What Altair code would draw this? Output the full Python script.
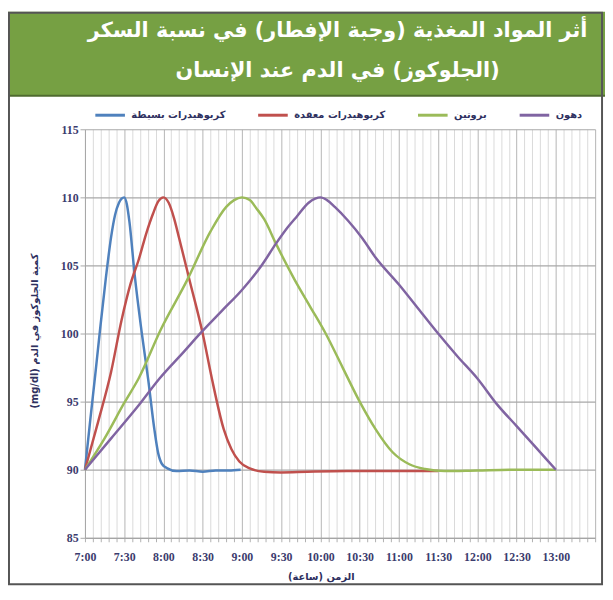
import altair as alt
import pandas as pd

# ---------------- data (minutes after 7:00, glucose mg/dl) ----------------
series_names = ["كربوهيدرات بسيطة", "كربوهيدرات معقدة", "بروتين", "دهون"]
series_colors = ["#4F81BD", "#C0504D", "#9BBB59", "#8064A2"]

simple_t = [0, 4, 8, 12, 16, 20, 23, 26, 28, 30, 32, 34, 38, 43.5, 48.5, 53, 56, 59, 63, 70, 80, 90, 100, 110, 119]
simple_v = [90, 93.6, 97.1, 100.7, 104.1, 107.1, 108.7, 109.6, 109.9, 110, 109.5, 108.2, 104.3, 100, 96.5, 93, 91.2, 90.4, 90.1, 89.9, 89.95, 89.85, 89.95, 89.95, 90]

complex_t = [0, 10, 20, 28, 35, 41, 47, 52, 56, 60, 64, 68, 72, 80, 90, 97, 106, 112, 118, 126, 137, 150, 170, 200, 240, 270]
complex_v = [90, 93.5, 97.2, 101, 103.7, 105.4, 107.4, 108.8, 109.7, 110, 109.6, 108.5, 107, 103.9, 100, 96.7, 93, 91.5, 90.6, 90.1, 89.85, 89.8, 89.85, 89.9, 89.9, 89.9]

protein_t = [0, 15, 30, 41, 58, 78, 96, 108, 114, 120, 126, 131, 137, 146, 160, 172, 184, 197, 210, 222, 235, 248, 260, 275, 300, 330, 360]
protein_v = [90, 92.3, 94.9, 96.7, 100.3, 103.9, 107.5, 109.3, 109.8, 110, 109.8, 109.2, 108.4, 106.6, 104, 102, 100, 97.5, 95, 93, 91.3, 90.4, 90.05, 89.9, 89.95, 90, 90]

fat_t = [0, 20, 40, 57, 75, 89, 105, 120, 135, 146, 155, 162, 171, 176, 180, 185, 191, 201, 212, 222, 240, 255, 270, 285, 300, 315, 330, 345, 360]
fat_v = [90, 92.3, 94.6, 96.7, 98.6, 100.1, 101.7, 103.2, 105, 106.6, 107.8, 108.6, 109.6, 109.9, 110, 109.8, 109.3, 108.3, 107, 105.6, 103.6, 101.8, 100, 98.3, 96.7, 94.8, 93.2, 91.6, 90]

y_ticks = [85, 90, 95, 100, 105, 110, 115]
x_grid_minutes = list(range(0, 391, 6))

RLE, PDF = "\u202b", "\u202c"
title_line1 = "أثر المواد المغذية (وجبة الإفطار) في نسبة السكر"
title_line2 = "(الجلوكوز) في الدم عند الإنسان"
x_title = "الزمن (ساعة)"
y_title = "كمية الجلوكوز في الدم (mg/dl)"

rows = []
for name, ts, vs in zip(series_names,
                        [simple_t, complex_t, protein_t, fat_t],
                        [simple_v, complex_v, protein_v, fat_v]):
    for i, (t, v) in enumerate(zip(ts, vs)):
        rows.append({"series": name, "t": t, "v": v, "i": i})
df = pd.DataFrame(rows)
one = pd.DataFrame({"a": [0]})

W, H = 517, 414
TXT = "#2e3060"

x_axis = alt.Axis(
    values=x_grid_minutes,
    labelExpr="(datum.value % 30 === 0 && datum.value <= 360) ? (7 + floor(datum.value / 60)) + ':' + (datum.value % 60 === 0 ? '00' : '30') : ''",
    labelOverlap=False, labelFlush=False,
    labelFont="Liberation Serif", labelFontSize=12, labelFontWeight="bold", labelColor="#3c3c6e",
    labelPadding=10,
    grid=True,
    gridColor={"condition": {"test": "datum.value % 30 === 0", "value": "#b5b5b5"}, "value": "#d9d9d9"},
    gridWidth=1,
    tickColor="#b0b0b0", tickSize=4,
    domainColor="#a6a6a6",
    title=RLE + x_title + PDF,
    titleFont="DejaVu Sans", titleFontSize=10, titleFontWeight="bold", titleColor=TXT,
    titleX=239, titlePadding=9,
)
y_axis = alt.Axis(
    values=y_ticks,
    labelFont="Liberation Serif", labelFontSize=12, labelFontWeight="bold", labelColor="#3c3c6e",
    labelPadding=2,
    grid=True, gridColor="#a8a8a8", gridWidth=1.2,
    tickColor="#a8a8a8", tickSize=5,
    domainColor="#a8a8a8",
    title=RLE + y_title + PDF,
    titleFont="DejaVu Sans", titleFontSize=10, titleFontWeight="bold", titleColor=TXT,
    titleAngle=-90, titleX=-51, titleY=204, titleAlign="center", titleBaseline="middle",
)

lines = alt.Chart(df).mark_line(strokeWidth=2.5, interpolate="monotone").encode(
    x=alt.X("t:Q", scale=alt.Scale(domain=[0, 390], nice=False, zero=False), axis=x_axis),
    y=alt.Y("v:Q", scale=alt.Scale(domain=[85, 115], nice=False, zero=False), axis=y_axis),
    color=alt.Color(
        "series:N",
        scale=alt.Scale(domain=series_names, range=series_colors),
        legend=alt.Legend(
            orient="none", legendX=9, legendY=-31, direction="horizontal", columns=4,
            title=None, symbolType="stroke", symbolSize=900, symbolStrokeWidth=3,
            labelFont="DejaVu Sans", labelFontSize=10, labelFontWeight="bold", labelColor=TXT,
            labelOffset=5, columnPadding=26,
        ),
    ),
    order="i:Q",
)

banner = alt.Chart(one).mark_rect(color="#76A043").encode(
    x=alt.value(-78), x2=alt.value(527), y=alt.value(-119), y2=alt.value(-34)
)
banner_edge = alt.Chart(one).mark_rule(color="#4f6b2f", strokeWidth=2).encode(
    x=alt.value(-78), x2=alt.value(527), y=alt.value(-34)
)
t1 = alt.Chart(one).mark_text(
    text=RLE + title_line1 + PDF, font="DejaVu Sans", fontSize=21, fontWeight="bold",
    color="white", align="center", baseline="middle"
).encode(x=alt.value(256), y=alt.value(-100))
t2 = alt.Chart(one).mark_text(
    text=RLE + title_line2 + PDF, font="DejaVu Sans", fontSize=21, fontWeight="bold",
    color="white", align="center", baseline="middle"
).encode(x=alt.value(256), y=alt.value(-59))
frame = alt.Chart(one).mark_rect(fillOpacity=0, stroke="#555555", strokeWidth=2).encode(
    x=alt.value(-77), x2=alt.value(524), y=alt.value(-118), y2=alt.value(461)
)

chart = alt.layer(banner, banner_edge, t1, t2, lines, frame).properties(
    width=W, height=H,
    autosize=alt.AutoSizeParams(type="none"),
    padding={"left": 78, "top": 119, "right": 10, "bottom": 49},
    background="white",
).configure_view(strokeWidth=0)

chart.save("out.html", embed_options={"renderer": "svg", "actions": False})
